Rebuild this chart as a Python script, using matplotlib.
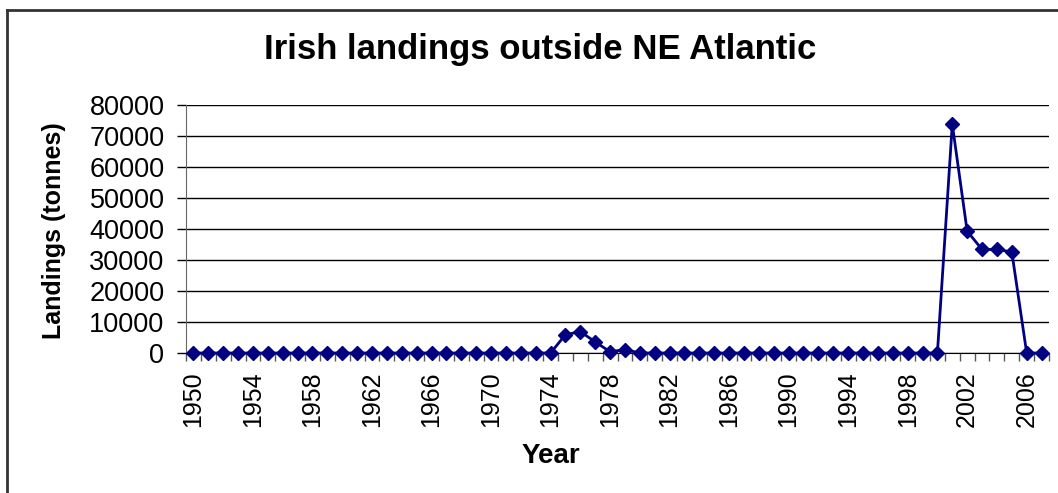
import matplotlib
matplotlib.use("Agg")
import matplotlib.pyplot as plt
from matplotlib.lines import Line2D
from matplotlib.ticker import MultipleLocator, FixedLocator

plt.rcParams['font.family'] = ['Liberation Sans', 'DejaVu Sans']

years = list(range(1950, 2008))
landings = [0] * 25 + [5900, 6900, 3600, 400, 1100] + [0] * 21 + [73800, 39300, 33400, 33400, 32600, 0, 0]

title = "Irish landings outside NE Atlantic"
xlabel = "Year"
ylabel = "Landings (tonnes)"
tick_years = list(range(1950, 2008, 4))

W, H = 1058, 493
fig = plt.figure(figsize=(W / 100, H / 100), dpi=100)
ax = fig.add_axes([186 / W, 1 - 353 / H, (1049 - 186) / W, (353 - 105) / H])

ax.plot(years, landings, color='#000080', lw=2.0, marker='D', ms=7.5,
        mfc='#000080', mec='#000080', clip_on=False, zorder=3)

ax.set_xlim(1949.5, 2007.5)
ax.set_ylim(0, 80000)
ax.yaxis.set_major_locator(MultipleLocator(10000))
ax.grid(axis='y', color='black', lw=1)
ax.set_axisbelow(True)

ax.xaxis.set_major_locator(FixedLocator(tick_years))
ax.xaxis.set_minor_locator(FixedLocator([y + 0.5 for y in range(1949, 2008)]))
ax.tick_params(axis='x', which='major', length=0, labelsize=18, rotation=90, pad=13)
ax.tick_params(axis='x', which='minor', length=6, width=1, color='#555555', direction='out')
ax.tick_params(axis='y', length=6.5, width=1, color='black', labelsize=19.5, pad=9)
ax.set_xticklabels([str(y) for y in tick_years])

for s in ['top', 'right']:
    ax.spines[s].set_visible(False)
ax.spines['left'].set_color('#666666')
ax.spines['bottom'].set_color('black')

fig.text(540 / W, 1 - 50 / H, title, ha='center', va='center', fontsize=25, fontweight='bold')
fig.text(551 / W, 1 - 456 / H, xlabel, ha='center', va='center', fontsize=20, fontweight='bold')
fig.text(54 / W, 1 - 231 / H, ylabel, ha='center', va='center', fontsize=18, fontweight='bold', rotation=90)

# outer chart frame
fig.add_artist(Line2D([7 / W, 7 / W], [0, 1 - 9.5 / H], transform=fig.transFigure, color='#333333', lw=2))
fig.add_artist(Line2D([7 / W, 1], [1 - 9.5 / H, 1 - 9.5 / H], transform=fig.transFigure, color='#333333', lw=2))

fig.savefig("out.png", dpi=100)
